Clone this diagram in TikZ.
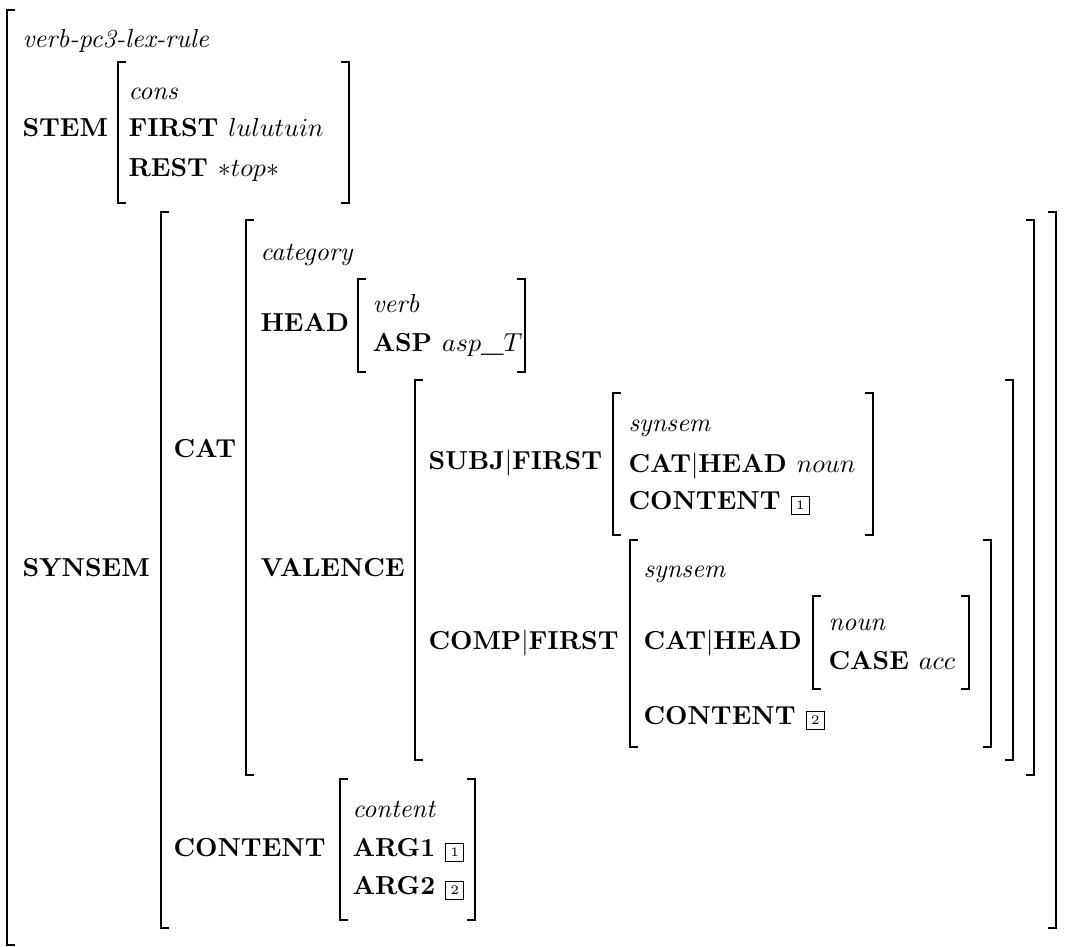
\documentclass[tikz,border=0pt]{standalone}
\usepackage{amsmath}
\usepackage{amssymb}
\usepackage{tikz}
\tikzset{feat/.style={font=\bfseries,anchor=base west,inner sep=0pt},
  typ/.style={font=\itshape,anchor=base west,inner sep=0pt},
  brak/.style={line width=0.9pt},}
\newcommand{\avmtag}[1]{{\normalfont\fboxsep=1.6pt\fbox{\tiny #1}}}

\begin{document}
\begin{tikzpicture}[x=0.3846pt,y=-0.3846pt]
    \useasboundingbox (0,0) rectangle (1068,947);
    \node[typ] (rule) at (22,48) {verb-pc3-lex-rule};
    \node[feat] (stem) at (22,137) {STEM};
    \node[typ] (cons) at (128,100) {cons};
    \node[feat] (first) at (128,137) {FIRST $lulutuin$};
    \node[feat] (rest) at (128,177) {REST $*top*$};
    \node[feat] (synsem) at (22,577) {SYNSEM};
    \node[feat] (cat) at (173,458) {CAT};
    \node[typ] (category) at (260,261) {category};
    \node[feat] (head) at (260,332) {HEAD};
    \node[typ] (verb) at (372,313) {verb};
    \node[feat] (asp) at (372,352) {ASP $asp\_T$};
    \node[feat] (valence) at (260,577) {VALENCE};
    \node[feat] (subj) at (428,470) {SUBJ$|$FIRST};
    \node[typ] (synsem1) at (628,432) {synsem};
    \node[feat] (cathead1) at (628,473) {CAT$|$HEAD $noun$};
    \node[feat] (content1) at (628,510) {CONTENT \avmtag{1}};
    \node[feat] (comp) at (428,650) {COMP$|$FIRST};
    \node[typ] (synsem2) at (643,578) {synsem};
    \node[feat] (cathead2) at (643,650) {CAT$|$HEAD};
    \node[typ] (noun) at (828,631) {noun};
    \node[feat] (case) at (828,670) {CASE $acc$};
    \node[feat] (content2) at (643,725) {CONTENT \avmtag{2}};
    \node[feat] (content) at (173,857) {CONTENT};
    \node[typ] (contype) at (352,818) {content};
    \node[feat] (arg1) at (352,857) {ARG1 \avmtag{1}};
    \node[feat] (arg2) at (352,895) {ARG2 \avmtag{2}};

    %% brackets
    \draw[brak] (15,10) -| (7,945) -- (15,945);
    \draw[brak] (126,62) -| (118,203) -- (126,203);
    \draw[brak] (341,62) -| (349,203) -- (341,203);
    \draw[brak] (169,212) -| (161,928) -- (169,928);
    \draw[brak] (1048,212) -| (1056,928) -- (1048,928);
    \draw[brak] (254,220) -| (246,775) -- (254,775);
    \draw[brak] (1026,220) -| (1034,775) -- (1026,775);
    \draw[brak] (366,279) -| (358,372) -- (366,372);
    \draw[brak] (517,279) -| (525,372) -- (517,372);
    \draw[brak] (423,380) -| (415,760) -- (423,760);
    \draw[brak] (1005,380) -| (1013,760) -- (1005,760);
    \draw[brak] (621,393) -| (613,535) -- (621,535);
    \draw[brak] (865,393) -| (873,535) -- (865,535);
    \draw[brak] (638,540) -| (630,747) -- (638,747);
    \draw[brak] (983,540) -| (991,747) -- (983,747);
    \draw[brak] (821,596) -| (813,689) -- (821,689);
    \draw[brak] (961,596) -| (969,689) -- (961,689);
    \draw[brak] (348,779) -| (340,920) -- (348,920);
    \draw[brak] (467,779) -| (475,920) -- (467,920);
\end{tikzpicture}
\end{document}
